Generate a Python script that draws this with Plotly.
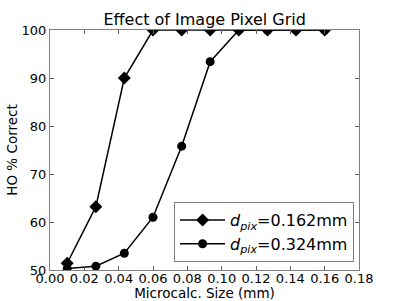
import plotly.graph_objects as go

x_vals = [0.01, 0.0267, 0.0433, 0.06, 0.0767, 0.0933, 0.11, 0.1267, 0.1433, 0.16]
y_162 = [51.4, 63.2, 90.0, 100, 100, 100, 100, 100, 100, 100]
y_324 = [50.3, 50.8, 53.5, 61.0, 75.8, 93.4, 100, 100, 100, 100]
names = ["<i>d</i><sub><i>pix</i></sub>=0.162mm", "<i>d</i><sub><i>pix</i></sub>=0.324mm"]
x_ticks = [0.00, 0.02, 0.04, 0.06, 0.08, 0.10, 0.12, 0.14, 0.16, 0.18]
y_ticks = [50, 60, 70, 80, 90, 100]

fig = go.Figure()
fig.add_trace(go.Scatter(x=x_vals, y=y_162, mode="lines+markers", name=names[0],
                         line=dict(color="black", width=1.5),
                         marker=dict(symbol="diamond", size=10, color="black")))
fig.add_trace(go.Scatter(x=x_vals, y=y_324, mode="lines+markers", name=names[1],
                         line=dict(color="black", width=1.5),
                         marker=dict(symbol="circle", size=9, color="black")))

axis_common = dict(showgrid=False, zeroline=False, showline=True, linecolor="#808080",
                   linewidth=1.2, mirror="allticks", ticks="inside", ticklen=4,
                   tickcolor="#606060", automargin=False,
                   tickfont=dict(size=13, color="black"))
fig.update_xaxes(range=[0, 0.18], tickvals=x_ticks, tickformat=".2f", ticklabelstandoff=-4,
                 title=dict(text="Microcalc. Size (mm)", font=dict(size=13.5, color="black"), standoff=4),
                 **axis_common)
fig.update_yaxes(range=[50, 100], tickvals=y_ticks,
                 title=dict(text="HO % Correct", font=dict(size=13.5, color="black"), standoff=0),
                 **axis_common)

fig.update_layout(
    width=399, height=301,
    margin=dict(l=50, r=40, t=30, b=31, autoexpand=False),
    paper_bgcolor="white", plot_bgcolor="white",
    font=dict(family="DejaVu Sans", color="black"),
    title=dict(text="Effect of Image Pixel Grid", x=0.513, xanchor="center", y=0.934,
               yanchor="middle", font=dict(size=16, color="black")),
    showlegend=True,
    legend=dict(x=0.984, y=0.033, xanchor="right", yanchor="bottom",
                bgcolor="white", bordercolor="#808080", borderwidth=1, itemwidth=45,
                font=dict(size=16, color="black"), tracegroupgap=2),
)

fig.write_html("out.html", config={"displayModeBar": False},
               post_script="document.body.style.margin='0';")
